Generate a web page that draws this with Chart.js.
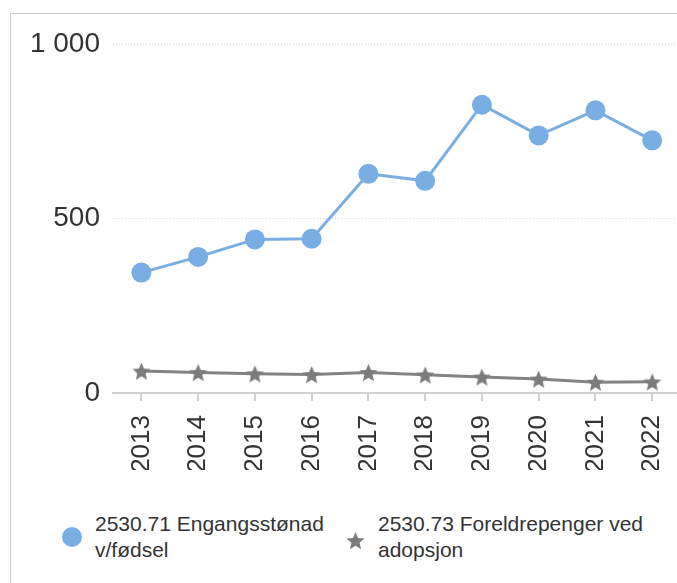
<!DOCTYPE html>
<html>
<head>
<meta charset="utf-8">
<script src="https://cdn.jsdelivr.net/npm/chart.js@4/dist/chart.umd.min.js"></script>
<style>
  html, body { margin: 0; padding: 0; background: #fff; overflow: hidden; width: 677px; height: 583px; }
  #frame { position: absolute; left: 10px; top: 13px; width: 700px; height: 600px;
           border-left: 1px solid #cccccc; border-top: 1px solid #cccccc; }
  #myChart { position: absolute; left: 0; top: 0; }
  .leg { position: absolute; font-family: "Liberation Sans", Arial, sans-serif; font-size: 21px;
         line-height: 26px; color: #333; white-space: nowrap; }
  .mark { position: absolute; }
</style>
</head>
<body>
<div id="frame"></div>
<canvas id="myChart" width="698" height="470"></canvas>
<div id="m1" class="mark" style="left:62px; top:527px; width:20px; height:20px; border-radius:50%;"></div>
<div id="t1" class="leg" style="left:95px; top:511px;"></div>
<div id="m2" class="mark" style="left:345px; top:530px;"></div>
<div id="t2" class="leg" style="left:378px; top:511px;"></div>
<script>
var years = ['2013', '2014', '2015', '2016', '2017', '2018', '2019', '2020', '2021', '2022'];
var engangsstonad = [345, 390, 440, 442, 628, 608, 826, 738, 810, 724];
var foreldrepenger = [63, 59, 55, 53, 59, 52, 46, 40, 31, 32];
var seriesNames = [['2530.71 Engangsstønad', 'v/fødsel'], ['2530.73 Foreldrepenger ved', 'adopsjon']];
var yTicks = [0, 500, 1000];

var blue = '#78aee3';
var grey = '#838383';

// five-pointed star used as point style
function makeStar(r, color) {
    var c = document.createElement('canvas');
    c.width = c.height = Math.ceil(r * 2 + 2);
    var g = c.getContext('2d');
    var cx = c.width / 2, cy = c.height / 2 + r * 0.1;
    g.beginPath();
    for (var i = 0; i < 10; i++) {
        var rad = i % 2 === 0 ? r : r * 0.45;
        var a = -Math.PI / 2 + i * Math.PI / 5;
        var x = cx + rad * Math.cos(a), y = cy + rad * Math.sin(a);
        if (i === 0) g.moveTo(x, y); else g.lineTo(x, y);
    }
    g.closePath();
    g.fillStyle = color;
    g.fill();
    return c;
}

var fmt = function (v) { return String(v).replace(/\B(?=(\d{3})+(?!\d))/g, ' '); };
var fontFam = '"Liberation Sans", Arial, sans-serif';

var ctx = document.getElementById('myChart');
var myChart = new Chart(ctx, {
    type: 'line',
    data: {
        labels: years,
        datasets: [
            {
                label: seriesNames[0].join(' '),
                data: engangsstonad,
                borderColor: blue,
                backgroundColor: blue,
                borderWidth: 3,
                pointRadius: 10,
                pointBorderWidth: 0,
                tension: 0
            },
            {
                label: seriesNames[1].join(' '),
                data: foreldrepenger,
                borderColor: grey,
                backgroundColor: grey,
                borderWidth: 3,
                pointRadius: 9,
                pointStyle: makeStar(9.5, '#7c7c7c'),
                tension: 0
            }
        ]
    },
    options: {
        responsive: false,
        animation: false,
        layout: { padding: { top: 44, right: 10, bottom: 0, left: 0 } },
        plugins: { legend: { display: false }, tooltip: { enabled: false } },
        scales: {
            x: {
                offset: true,
                grid: { display: true, drawOnChartArea: false, drawTicks: true, tickLength: 8, color: '#d0d0d0', lineWidth: 2 },
                border: { display: true, color: '#d0d0d0', width: 2 },
                ticks: { font: { family: fontFam, size: 26 }, color: '#333', minRotation: 90, maxRotation: 90, padding: 14, autoSkip: false },
                afterFit: function (scale) { scale.height = 77; }
            },
            y: {
                min: 0,
                max: 1000,
                afterBuildTicks: function (scale) { scale.ticks = yTicks.map(function (v) { return { value: v }; }); },
                grid: {
                    drawTicks: false,
                    lineWidth: 1,
                    color: function (c) { return c.tick && c.tick.value === 0 ? 'rgba(0,0,0,0)' : '#d4d4d4'; }
                },
                border: { display: false, dash: [1, 2] },
                ticks: { font: { family: fontFam, size: 28 }, color: '#333', padding: 13, callback: function (v) { return fmt(v); } },
                afterFit: function (scale) { scale.width = 113; }
            }
        }
    }
});

// legend
document.getElementById('m1').style.background = blue;
document.getElementById('m2').appendChild(makeStar(9.5, '#7c7c7c'));
document.getElementById('t1').innerHTML = seriesNames[0].join('<br>');
document.getElementById('t2').innerHTML = seriesNames[1].join('<br>');
</script>
</body>
</html>
